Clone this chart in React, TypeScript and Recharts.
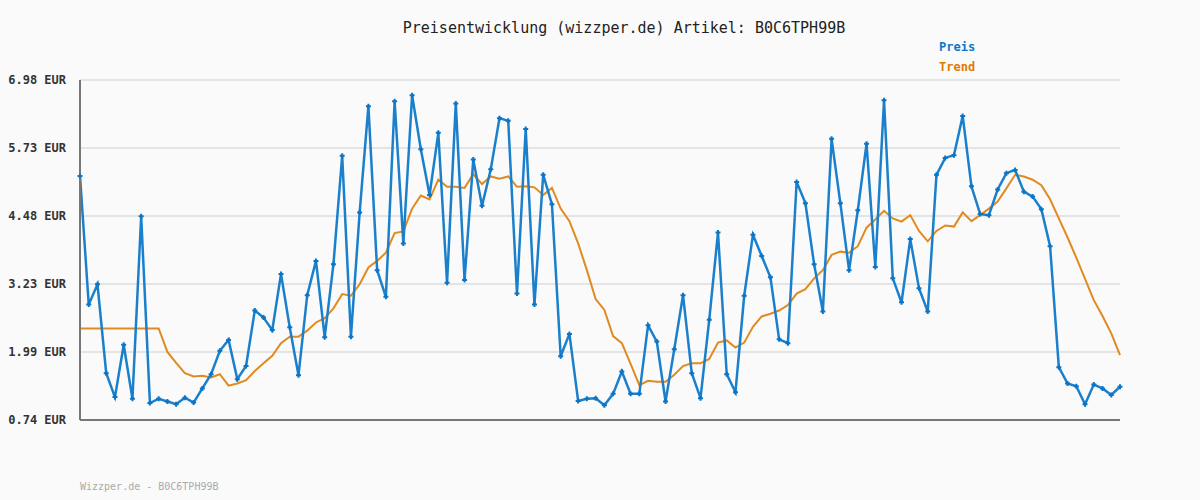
import React from 'react';
import { LineChart, Line, XAxis, YAxis, CartesianGrid, ReferenceLine } from 'recharts';

const preis = [
  5.22, 2.86, 3.23, 1.6, 1.16, 2.12, 1.13, 4.48, 1.05, 1.13,
  1.08, 1.03, 1.15, 1.06, 1.32, 1.58, 2.01, 2.21, 1.49, 1.73,
  2.75, 2.62, 2.39, 3.42, 2.44, 1.56, 3.03, 3.66, 2.26, 3.6,
  5.59, 2.27, 4.55, 6.5, 3.49, 3.0, 6.59, 3.98, 6.7, 5.71,
  4.87, 6.01, 3.26, 6.55, 3.31, 5.52, 4.67, 5.34, 6.28, 6.23,
  3.06, 6.08, 2.86, 5.24, 4.7, 1.91, 2.32, 1.09, 1.13, 1.14,
  1.01, 1.22, 1.63, 1.22, 1.22, 2.48, 2.18, 1.08, 2.04, 3.03,
  1.6, 1.14, 2.58, 4.18, 1.58, 1.25, 3.02, 4.14, 3.75, 3.36,
  2.22, 2.15, 5.11, 4.72, 3.6, 2.73, 5.9, 4.72, 3.49, 4.59,
  5.81, 3.55, 6.61, 3.34, 2.9, 4.06, 3.16, 2.73, 5.24, 5.55,
  5.6, 6.32, 5.03, 4.52, 4.5, 4.97, 5.27, 5.33, 4.93, 4.84,
  4.61, 3.93, 1.71, 1.41, 1.36, 1.03, 1.39, 1.32, 1.2, 1.35,
];

const trend = [
  2.42, 2.42, 2.42, 2.42, 2.42, 2.42, 2.42, 2.42, 2.42, 2.42,
  1.99, 1.79, 1.6, 1.54, 1.55, 1.52, 1.58, 1.37, 1.41, 1.47,
  1.64, 1.78, 1.92, 2.15, 2.27, 2.27, 2.38, 2.53, 2.61, 2.79,
  3.05, 3.02, 3.23, 3.54, 3.66, 3.81, 4.17, 4.2, 4.62, 4.86,
  4.79, 5.15, 5.02, 5.02, 5.0, 5.25, 5.07, 5.21, 5.17, 5.21,
  5.02, 5.03, 5.01, 4.87, 5.0, 4.62, 4.39, 3.98, 3.49, 2.96,
  2.76, 2.28, 2.15, 1.77, 1.38, 1.46, 1.44, 1.44, 1.57, 1.73,
  1.78, 1.78, 1.86, 2.16, 2.2, 2.07, 2.16, 2.45, 2.64, 2.69,
  2.75, 2.85, 3.06, 3.14, 3.34, 3.49, 3.77, 3.83, 3.81, 3.93,
  4.27, 4.42, 4.58, 4.44, 4.38, 4.5, 4.21, 4.02, 4.21, 4.31,
  4.29, 4.55, 4.39, 4.5, 4.62, 4.75, 4.99, 5.24, 5.21, 5.15,
  5.05, 4.79, 4.44, 4.09, 3.72, 3.33, 2.94, 2.65, 2.33, 1.93,
];

const yTicks = [0.74, 1.988, 3.236, 4.484, 5.732, 6.98];
const yTickLabels = ['0.74 EUR', '1.99 EUR', '3.23 EUR', '4.48 EUR', '5.73 EUR', '6.98 EUR'];

const data = preis.map((p, i) => ({ idx: i, preis: p, trend: trend[i] }));

const BLUE = '#1a80cc';
const ORANGE = '#e08a20';
const MONO = '"DejaVu Sans Mono", "Liberation Mono", monospace';

const PlusDot = (props: any) => {
  const { cx, cy, index } = props;
  if (cx == null || cy == null) return null;
  return (
    <path
      key={`d-${index}`}
      d={`M${cx - 2.5},${cy}H${cx + 2.5}M${cx},${cy - 2.5}V${cy + 2.5}`}
      stroke="#0b74c4"
      strokeWidth={2}
    />
  );
};

export default function App() {
  return (
    <div style={{ position: 'absolute', left: 0, top: 0, width: 1200, height: 500, background: '#fafafa' }}>
      <div
        style={{
          position: 'absolute', left: 0, width: 1248, top: 19, textAlign: 'center',
          fontFamily: MONO, fontSize: 15, color: '#222',
        }}
      >
        Preisentwicklung (wizzper.de) Artikel: B0C6TPH99B
      </div>
      {/* legend */}
      <div
        style={{
          position: 'absolute', left: 939, top: 37, fontFamily: MONO, fontSize: 12,
          fontWeight: 'bold', lineHeight: '20px',
        }}
      >
        <div style={{ color: '#0b78c8' }}>Preis</div>
        <div style={{ color: '#e07b00' }}>Trend</div>
      </div>
      <LineChart width={1200} height={500} data={data} margin={{ top: 80, right: 80, bottom: 80, left: 10 }}>
        <CartesianGrid vertical={false} stroke="#e4e4e4" strokeWidth={2} />
        <XAxis dataKey="idx" hide />
        <YAxis
          width={70}
          domain={[0.74, 6.98]}
          ticks={yTicks}
          interval={0}
          tickLine={false}
          tickSize={0}
          tickMargin={14}
          axisLine={{ stroke: '#777', strokeWidth: 2 }}
          tickFormatter={(v: number) => yTickLabels[yTicks.indexOf(v)] ?? ''}
          tick={{ fontFamily: MONO, fontSize: 12, fontWeight: 'bold', fill: '#333' }}
        />
        <ReferenceLine y={0.74} stroke="#777" strokeWidth={2} />
        <Line
          type="linear"
          dataKey="trend"
          stroke={ORANGE}
          strokeWidth={2}
          dot={false}
          isAnimationActive={false}
        />
        <Line
          type="linear"
          dataKey="preis"
          stroke={BLUE}
          strokeWidth={2.5}
          dot={PlusDot}
          isAnimationActive={false}
        />
      </LineChart>
      <div
        style={{
          position: 'absolute', left: 80, top: 481, fontFamily: MONO, fontSize: 10, color: '#aaa',
        }}
      >
        Wizzper.de - B0C6TPH99B
      </div>
    </div>
  );
}
